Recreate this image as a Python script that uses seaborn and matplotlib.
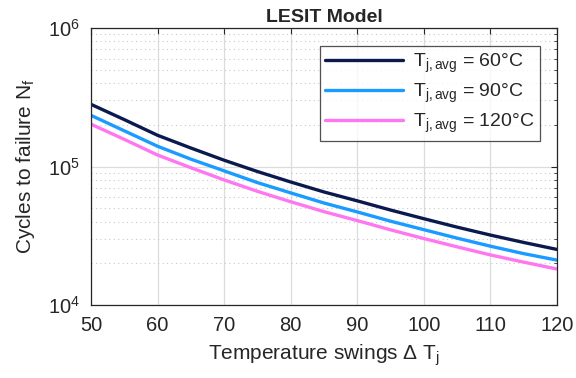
import numpy as np
import pandas as pd
import matplotlib
matplotlib.use("Agg")
import matplotlib.pyplot as plt
import seaborn as sns
from matplotlib.ticker import LogLocator, NullFormatter

# values (every 5 degrees)
delta_tj = [50, 55, 60, 65, 70, 75, 80, 85, 90, 95, 100, 105, 110, 115, 120]
nf_60 = [2.81e5, 2.18e5, 1.68e5, 1.36e5, 1.11e5, 9.2e4, 7.73e4, 6.55e4,
         5.65e4, 4.85e4, 4.2e4, 3.65e4, 3.2e4, 2.83e4, 2.52e4]
nf_90 = [2.34e5, 1.81e5, 1.40e5, 1.13e5, 9.3e4, 7.65e4, 6.45e4, 5.45e4,
         4.7e4, 4.03e4, 3.5e4, 3.04e4, 2.66e4, 2.35e4, 2.11e4]
nf_120 = [2.02e5, 1.57e5, 1.21e5, 9.8e4, 8.0e4, 6.62e4, 5.57e4, 4.72e4,
          4.07e4, 3.49e4, 3.02e4, 2.63e4, 2.3e4, 2.04e4, 1.82e4]
series_labels = ["60", "90", "120"]
x_ticks = [50, 60, 70, 80, 90, 100, 110, 120]
colors = ["#0b1a4e", "#1a9bff", "#ff77f0"]

df = pd.DataFrame({
    "dT": delta_tj * 3,
    "Nf": nf_60 + nf_90 + nf_120,
    "Tavg": [s for s in series_labels for _ in delta_tj],
})

sns.set_style("white")
plt.rcParams["font.family"] = ["Liberation Sans", "DejaVu Sans"]
plt.rcParams["mathtext.fontset"] = "custom"
plt.rcParams["mathtext.rm"] = "Liberation Sans"
plt.rcParams["mathtext.it"] = "Liberation Sans"

fig = plt.figure(figsize=(5.76, 3.78), dpi=100)
ax = fig.add_axes([0.158, 0.193, 0.809, 0.733])

sns.lineplot(data=df, x="dT", y="Nf", hue="Tavg", palette=colors,
             linewidth=2.4, ax=ax, legend=False)

ax.set_yscale("log")
ax.set_xlim(50, 120)
ax.set_ylim(1e4, 1e6)
ax.set_xticks(x_ticks)
ax.yaxis.set_major_locator(LogLocator(base=10))
ax.yaxis.set_minor_locator(LogLocator(base=10, subs=np.arange(2, 10)))
ax.yaxis.set_minor_formatter(NullFormatter())

ax.grid(True, which="major", color="#dcdcdc", linewidth=0.9, linestyle="-")
ax.grid(True, which="minor", axis="y", color="#c8c8c8", linewidth=0.8,
        linestyle=(0, (1, 3)))
ax.set_axisbelow(True)

for s in ax.spines.values():
    s.set_color("#262626")
    s.set_linewidth(0.9)
ax.tick_params(which="both", direction="in", top=True, right=True,
               colors="#262626", labelsize=14.5)
ax.tick_params(which="major", length=4)
ax.tick_params(which="minor", length=2)
ax.tick_params(axis="x", pad=8)
ax.tick_params(axis="y", pad=8)

ax.set_title("LESIT Model", fontsize=14, fontweight="bold", pad=4)
ax.set_xlabel(r"Temperature swings Δ $\mathregular{T_j}$", fontsize=15,
              color="#262626", labelpad=5)
ax.set_ylabel(r"Cycles to failure $\mathregular{N_f}$", fontsize=15,
              color="#262626", labelpad=8)

handles = ax.get_lines()[:3]
leg = ax.legend(handles,
                [r"$\mathregular{T_{j,avg}}$ = " + s + "°C" for s in series_labels],
                loc="upper right", bbox_to_anchor=(0.985, 0.97), fontsize=14,
                handlelength=4.0, frameon=True, fancybox=False,
                borderpad=0.3, labelspacing=0.35, handletextpad=0.5)
leg.get_frame().set_edgecolor("#262626")
leg.get_frame().set_linewidth(0.9)

fig.savefig("out.png", dpi=100)
